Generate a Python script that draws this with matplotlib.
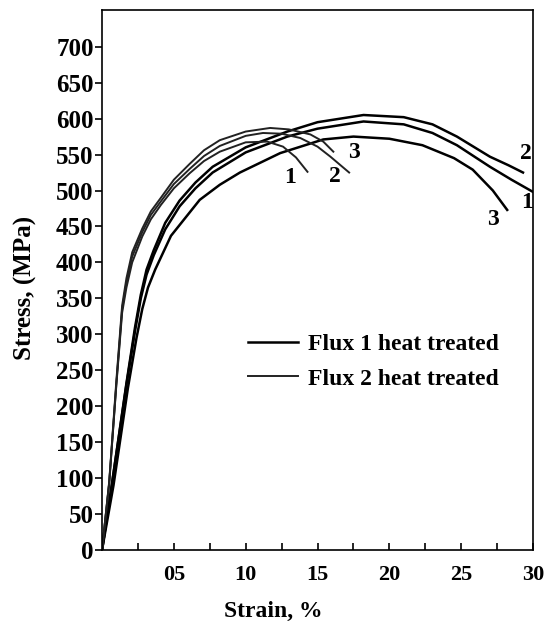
import matplotlib
matplotlib.use("Agg")
import matplotlib.pyplot as plt

# strain (%) and stress (MPa)
# Flux 1 heat treated - long curves
f1_s1_x = [0, 0.7, 1.7, 2.3, 2.7, 3.1, 3.6, 4.4, 5.4, 6.5, 7.7, 10.0, 12.9, 15.0, 18.2, 21.0, 23.0, 24.7, 27.0, 28.5, 30.0]
f1_s1_y = [0, 93, 230, 305, 350, 383, 410, 446, 478, 503, 525, 553, 575, 586, 596, 592, 580, 563, 533, 515, 498]
f1_s2_x = [0, 0.7, 1.7, 2.3, 2.7, 3.1, 3.6, 4.4, 5.4, 6.5, 7.7, 10.0, 12.9, 15.0, 18.2, 21.0, 23.0, 24.7, 27.0, 28.3, 29.3]
f1_s2_y = [0, 93, 232, 310, 355, 390, 417, 455, 486, 511, 533, 560, 582, 595, 605, 602, 592, 575, 547, 535, 525]
f1_s3_x = [0, 0.8, 1.8, 2.4, 2.8, 3.2, 3.7, 4.8, 6.8, 8.2, 9.6, 12.4, 15.4, 17.5, 20.0, 22.3, 24.5, 25.8, 27.2, 28.2]
f1_s3_y = [0, 90, 225, 295, 335, 365, 390, 437, 487, 508, 525, 552, 571, 575, 572, 563, 545, 529, 500, 473]

# Flux 2 heat treated - short curves
f2_s1_x = [0, 0.5, 1.0, 1.4, 1.7, 2.1, 2.8, 3.4, 4.1, 5.0, 6.1, 7.1, 8.2, 10.0, 11.5, 12.6, 13.5, 14.3]
f2_s1_y = [0, 93, 230, 330, 365, 400, 436, 460, 480, 503, 524, 541, 554, 567, 568, 561, 546, 526]
f2_s2_x = [0, 0.5, 1.0, 1.4, 1.7, 2.1, 2.8, 3.4, 4.1, 5.0, 6.1, 7.1, 8.2, 10.0, 11.2, 12.5, 13.8, 15.0, 15.9, 17.2]
f2_s2_y = [0, 93, 232, 335, 372, 408, 442, 466, 485, 509, 530, 548, 562, 576, 580, 579, 573, 561, 547, 525]
f2_s3_x = [0, 0.5, 1.0, 1.4, 1.7, 2.1, 2.8, 3.4, 4.1, 5.0, 6.1, 7.1, 8.2, 10.0, 11.7, 13.0, 14.5, 15.4, 16.1]
f2_s3_y = [0, 95, 236, 340, 378, 414, 447, 471, 490, 515, 537, 556, 570, 582, 587, 585, 578, 568, 554]

# specimen number labels at curve ends
num_labels = ["1", "2", "3", "2", "1", "3"]
num_x = [13.1, 16.2, 17.5, 29.5, 29.6, 27.2]
num_y = [518, 519, 553, 551, 483, 459]

yticks = list(range(0, 701, 50))
xticks = [2.5, 5, 7.5, 10, 12.5, 15, 17.5, 20, 22.5, 25, 27.5, 30]
xlabels = ["", "05", "", "10", "", "15", "", "20", "", "25", "", "30"]

plt.rcParams["font.family"] = ["Liberation Serif", "DejaVu Serif"]
plt.rcParams["font.weight"] = "bold"

fig = plt.figure(figsize=(5.47, 6.27), dpi=100)
ax = fig.add_axes([0.1865, 0.1228, 0.788, 0.8612])

ax.plot(f1_s1_x, f1_s1_y, color="black", lw=1.8, label="Flux 1 heat treated")
ax.plot(f1_s2_x, f1_s2_y, color="black", lw=1.8)
ax.plot(f1_s3_x, f1_s3_y, color="black", lw=1.8)
ax.plot(f2_s1_x, f2_s1_y, color="#222222", lw=1.4, label="Flux 2 heat treated")
ax.plot(f2_s2_x, f2_s2_y, color="#222222", lw=1.4)
ax.plot(f2_s3_x, f2_s3_y, color="#222222", lw=1.4)

for t, x, y in zip(num_labels, num_x, num_y):
    ax.text(x, y, t, fontsize=17, fontweight="bold", ha="center", va="center")

ax.set_xlim(0, 30)
ax.set_ylim(0, 751)
ax.set_yticks(yticks)
ax.set_yticklabels([str(v) for v in yticks], fontsize=18, fontweight="bold")
ax.set_xticks(xticks)
ax.set_xticklabels(xlabels, fontsize=16, fontweight="bold")
ax.tick_params(axis="x", direction="in", length=5, width=1.2, pad=11)
ax.tick_params(axis="y", direction="out", length=5, width=1.2, pad=1)
for sp in ax.spines.values():
    sp.set_linewidth(1.2)

ax.set_xlabel("Strain, %", fontsize=17, fontweight="bold")
ax.xaxis.set_label_coords(0.397, -0.094)
ax.xaxis.label.set_va("top")
ax.set_ylabel("Stress, (MPa)", fontsize=18, fontweight="bold")
ax.yaxis.set_label_coords(-0.151, 0.485)

ax.legend(loc="center left", bbox_to_anchor=(0.339, 0.349), frameon=False,
          handlelength=2.1, handletextpad=0.42, labelspacing=0.55,
          borderpad=0, borderaxespad=0,
          prop={"weight": "bold", "size": 17})

fig.savefig("out.png", dpi=100)
